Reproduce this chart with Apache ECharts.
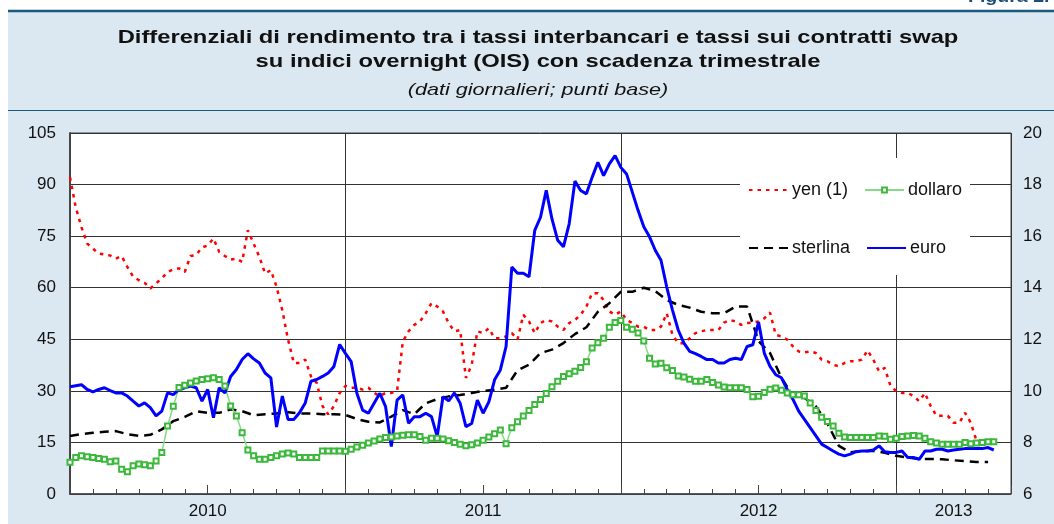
<!DOCTYPE html>
<html>
<head>
<meta charset="utf-8">
<script src="https://cdn.jsdelivr.net/npm/echarts@6/dist/echarts.min.js"></script>
<style>
html, body { margin: 0; padding: 0; background: #fff; }
#chart { width: 1054px; height: 524px; }
</style>
</head>
<body>
<div id="chart"></div>
<script>
// x values are months since 1 Jan 2010; each series is sampled at a fixed step
let FONT = '"Liberation Sans", Arial, Helvetica, sans-serif';
let yearLabels = ['2010', '2011', '2012', '2013'];
let yearLabelAt = [6, 18, 30, 38.5];

// yen (1): right-hand scale, step 0.25 month
let yenStep = 0.25;
let yen = [18.28, 17.12, 16.35, 15.71, 15.52, 15.32, 15.29, 15.25, 15.13, 15.23, 14.81, 14.43, 14.29,
    14.19, 13.97, 14.17, 14.36, 14.61, 14.71, 14.75, 14.61, 15.23, 15.27, 15.56, 15.64, 15.91, 15.39,
    15.23, 15.09, 15.13, 15.0, 16.23, 15.71, 15.2, 14.55, 14.68, 14.04, 13.13, 11.99, 11.08, 11.08,
    11.21, 10.56, 10.31, 9.41, 9.09, 9.41, 9.92, 10.19,
    10.12, 10.12, 10.05, 10.12, 9.92, 9.8, 9.92, 9.92, 9.99, 11.9, 12.31, 12.56, 12.69, 13.01, 13.4,
    13.27, 13.08, 12.63, 12.31, 12.36, 10.5, 11.0, 12.31, 12.24, 12.43, 12.04, 12.04, 12.11, 12.24,
    11.99, 12.95, 12.69, 12.24, 12.63, 12.75, 12.69, 12.49, 12.36, 12.63, 12.75, 12.95, 13.27, 13.79,
    13.79, 13.52, 13.08, 12.95, 13.08,
    12.75, 12.63, 12.49, 12.49, 12.36, 12.36, 12.49, 13.01, 12.17, 11.85, 11.85, 12.04, 12.24, 12.31,
    12.36, 12.36, 12.36, 12.65, 12.75, 12.69, 12.56, 12.63, 12.65, 12.69, 12.81, 13.04, 12.17, 12.11,
    11.99, 11.72, 11.53, 11.49, 11.53, 11.47, 11.21, 11.15, 11.01, 10.95, 11.08, 11.15, 11.15, 11.21,
    11.57, 11.21, 10.76, 10.89, 10.19, 9.99, 9.92, 9.92, 9.8, 9.6, 9.92, 9.41, 9.03, 9.03, 9.03, 8.76,
    8.76, 9.15, 8.76, 8.05, 8.0, 8.05];

// dollaro: left scale, step 0.25 month
let dollaroStep = 0.25;
let dollaro = [9.2, 10.6, 11.1, 10.8, 10.6, 10.3, 10.1, 9.4, 9.6, 7.2, 6.5, 8.2, 8.7, 8.5, 8.2, 9.6,
    12.1, 19.8, 25.5, 31.0, 31.6, 32.3, 32.9, 33.3, 33.5, 33.8, 33.3, 31.4, 25.6, 22.7, 17.8, 12.8,
    11.1, 10.1, 10.1, 10.6, 11.1, 11.6, 11.9, 11.6, 10.6, 10.6, 10.6, 10.6, 12.5, 12.5, 12.5, 12.5, 12.4,
    13.0, 13.7, 14.2, 14.8, 15.4, 16.0, 16.4, 16.6, 16.9, 17.1, 17.2, 17.2, 16.7, 15.6, 16.2, 16.2,
    16.0, 15.5, 15.0, 14.5, 14.0, 14.3, 14.8, 15.6, 16.6, 17.5, 18.6, 14.6, 19.3, 21.0, 22.7, 24.3,
    26.0, 27.5, 29.2, 31.2, 32.8, 34.2, 35.0, 35.7, 36.8, 38.5, 42.5, 44.0, 45.3, 48.5, 49.9, 50.5,
    48.5, 47.9, 46.8, 44.5, 39.5, 37.8, 38.0, 36.7, 35.9, 34.3, 34.0, 33.4, 32.8, 32.8, 33.3, 32.4,
    31.7, 31.1, 30.9, 30.9, 30.9, 30.4, 28.3, 28.4, 29.5, 30.5, 30.8, 30.2, 29.4, 28.9, 28.9, 28.5,
    26.5, 24.3, 22.3, 21.1, 19.8, 17.7, 16.6, 16.4, 16.4, 16.4, 16.4, 16.4, 16.9, 16.8, 15.9, 16.2,
    16.7, 16.9, 17.0, 16.9, 16.2, 15.2, 14.8, 14.5, 14.5, 14.5, 14.5, 15.0, 14.6, 14.8, 15.0, 15.2, 15.2];

// sterlina: left scale, step 0.5 month
let sterlinaStep = 0.5;
let sterlina = [16.9, 17.4, 17.8, 18.1, 18.3, 17.4, 16.9, 17.2, 18.8, 21.2,
    22.4, 24.1, 23.6, 23.6, 24.6, 24.1, 22.9, 23.2, 23.4, 23.8,
    23.4, 23.4, 23.2, 23.2, 23.0, 21.8, 21.0, 20.8, 22.5, 24.4,
    23.2, 26.4, 27.6, 28.4, 28.8, 29.4, 30.0, 30.3, 30.9, 36.0,
    37.6, 41.0, 42.0, 43.9, 46.5, 48.5, 53.0, 55.5, 58.8, 58.8,
    60.0, 59.0, 56.4, 55.0, 54.2, 53.0, 52.6, 52.6, 54.5, 54.5,
    44.5, 41.0, 33.8, 28.5, 28.0, 25.5, 20.5, 14.0, 12.1, 12.5,
    12.5, 12.0, 11.1, 10.6, 10.2, 10.2, 10.1, 9.8, 9.6, 9.3, 9.3];

// euro: left scale, step 0.25 month
let euroStep = 0.25;
let euro = [31.2, 31.5, 31.8, 30.4, 29.7, 30.4, 30.9, 30.1, 29.4, 29.4, 28.5, 27.0, 25.6, 26.5, 25.1,
    22.7, 24.1, 29.4, 28.9, 30.4, 30.9, 31.4, 30.9, 27.0, 30.4, 22.2, 30.9, 29.4, 34.2, 36.2, 39.1,
    40.8, 39.3, 38.1, 35.2, 33.8, 19.5, 28.5, 21.7, 21.7, 23.6, 26.5, 32.8, 33.3, 34.2, 35.2, 37.1,
    43.5, 40.9,
    38.5, 29.3, 24.4, 23.5, 26.4, 29.3, 25.4, 13.8, 27.3, 28.8, 20.6, 22.5, 22.5, 23.5, 22.5, 16.7,
    28.3, 27.1, 29.4, 26.4, 19.6, 20.5, 27.3, 23.5, 26.8, 33.2, 36.1, 42.9, 66.0, 64.2, 64.2, 63.2,
    76.7, 80.5, 88.3, 80.0, 73.8, 71.9, 78.6, 91.0, 88.3, 87.3, 92.1, 96.5, 92.6, 96.0, 98.4, 95.0,
    93.1, 87.8, 82.5, 77.7, 74.8, 70.9, 68.0, 60.2, 53.5, 47.7, 43.9, 41.5, 40.8, 40.0, 39.1, 39.1,
    38.1, 38.1, 39.1, 39.5, 39.1, 42.9, 43.4, 50.0, 41.0, 37.1, 34.7, 33.8, 30.4, 27.5, 24.1, 21.7,
    19.3, 16.9, 14.5, 13.5, 12.5, 11.6, 11.1, 11.6, 12.3, 12.5, 12.5, 12.8, 14.0, 12.3, 12.1, 12.1,
    12.5, 10.6, 10.6, 10.1, 12.5, 12.5, 13.0, 13.0, 12.5, 12.8, 13.0, 13.2, 13.2, 13.2, 13.2, 13.5, 12.8];

function toPoints(values, step) {
    return values.map(function (v, i) { return [i * step, v]; });
}

let chart = echarts.init(document.getElementById('chart'), null, { renderer: 'canvas' });

let baseX = { type: 'value', min: 0, max: 41, position: 'bottom', splitLine: { show: false } };
let noMark = { opacity: 0 };
let legendText = { fontSize: 18, color: '#111', fontFamily: FONT, padding: [0, 0, 0, -1] };

let option = {
    animation: false,
    backgroundColor: '#dce8f1',
    textStyle: { fontFamily: FONT },
    graphic: [
        { type: 'rect', shape: { x: 0, y: 0, width: 1054, height: 11 }, style: { fill: '#fff' } },
        { type: 'rect', shape: { x: 0, y: 0, width: 8, height: 524 }, style: { fill: '#fff' } },
        { type: 'line', shape: { x1: 8, y1: 11, x2: 1054, y2: 11 }, style: { stroke: '#1b5a80', lineWidth: 2.5 } },
        { type: 'line', shape: { x1: 8, y1: 110.5, x2: 1054, y2: 110.5 }, style: { stroke: '#1b5a80', lineWidth: 1.2 } },
        { type: 'text', x: 968, y: -3, scaleX: 1.15, style: { text: 'Figura 2.', fontSize: 17, fontWeight: 'bold', fontFamily: FONT, fill: '#1b4f78', verticalAlign: 'middle' } },
        { type: 'text', x: 538, y: 38, scaleX: 1.25, style: { text: 'Differenziali di rendimento tra i tassi interbancari e tassi sui contratti swap', fontSize: 19, fontWeight: 'bold', fontFamily: FONT, fill: '#111', align: 'center', verticalAlign: 'middle' } },
        { type: 'text', x: 538, y: 62, scaleX: 1.25, style: { text: 'su indici overnight (OIS) con scadenza trimestrale', fontSize: 19, fontWeight: 'bold', fontFamily: FONT, fill: '#111', align: 'center', verticalAlign: 'middle' } },
        { type: 'text', x: 538, y: 90, scaleX: 1.27, style: { text: '(dati giornalieri; punti base)', fontSize: 17, fontStyle: 'italic', fontFamily: FONT, fill: '#111', align: 'center', verticalAlign: 'middle' } },
        // white box behind the legend
        { type: 'rect', z: 3, shape: { x: 740, y: 158, width: 230, height: 117 }, style: { fill: '#fff' } }
    ],
    legend: [
        {
            data: [{ name: 'yen (1)', itemStyle: noMark }, 'dollaro'],
            left: 748, top: 181, padding: 0, itemWidth: 39, itemHeight: 6, itemGap: 16,
            textStyle: legendText
        },
        {
            data: [{ name: 'sterlina', itemStyle: noMark }, { name: 'euro', itemStyle: noMark }],
            left: 748, top: 239, padding: 0, itemWidth: 39, itemHeight: 6, itemGap: 16,
            textStyle: legendText
        }
    ],
    grid: {
        left: 70, right: 43, top: 133, bottom: 30,
        show: true, backgroundColor: '#fff', borderColor: '#444', borderWidth: 1
    },
    xAxis: [
        // monthly ticks
        Object.assign({}, baseX, {
            interval: 1,
            axisLine: { show: true, lineStyle: { color: '#444', width: 1.5 } },
            axisTick: { show: true, inside: true, length: 5, lineStyle: { color: '#444' } },
            axisLabel: { show: false }
        }),
        // longer half-year ticks
        Object.assign({}, baseX, {
            interval: 6,
            axisLine: { show: false },
            axisTick: { show: true, inside: true, length: 9, lineStyle: { color: '#444' } },
            axisLabel: { show: false }
        }),
        // year separators
        Object.assign({}, baseX, {
            interval: 12,
            axisLine: { show: false },
            axisTick: { show: false },
            axisLabel: { show: false },
            splitLine: { show: true, lineStyle: { color: '#333', width: 1 } }
        }),
        // year labels
        Object.assign({}, baseX, {
            interval: 0.5,
            axisLine: { show: false },
            axisTick: { show: false },
            axisLabel: {
                show: true, margin: 9, fontSize: 17, color: '#111', fontFamily: FONT,
                showMinLabel: false, showMaxLabel: false,
                formatter: function (v) {
                    let k = yearLabelAt.indexOf(v);
                    return k >= 0 ? yearLabels[k] : '';
                }
            }
        })
    ],
    yAxis: [
        {
            type: 'value', min: 0, max: 105, interval: 15, position: 'left',
            axisLine: { show: true, lineStyle: { color: '#444', width: 1.5 } },
            axisTick: { show: false },
            axisLabel: { margin: 14, fontSize: 17, color: '#111', fontFamily: FONT },
            splitLine: { show: true, lineStyle: { color: '#333', width: 1 } }
        },
        {
            type: 'value', min: 6, max: 20, interval: 2, position: 'right',
            axisLine: { show: true, lineStyle: { color: '#444', width: 1.5 } },
            axisTick: { show: false },
            axisLabel: { margin: 12, fontSize: 17, color: '#111', fontFamily: FONT },
            splitLine: { show: false }
        }
    ],
    series: [
        {
            name: 'yen (1)', type: 'line', yAxisIndex: 1, symbol: 'none',
            data: toPoints(yen, yenStep),
            itemStyle: { color: '#ff0000' },
            lineStyle: { color: '#ff0000', width: 2.5, type: [3.5, 5] }
        },
        {
            name: 'sterlina', type: 'line', symbol: 'none',
            data: toPoints(sterlina, sterlinaStep),
            itemStyle: { color: '#000' },
            lineStyle: { color: '#000', width: 2.5, type: [9, 6] }
        },
        {
            name: 'dollaro', type: 'line', symbol: 'emptyRect', symbolSize: 5, showAllSymbol: true,
            data: toPoints(dollaro, dollaroStep),
            itemStyle: { color: '#3cb83c', borderWidth: 1 },
            lineStyle: { color: '#86db86', width: 1.5 }
        },
        {
            name: 'euro', type: 'line', symbol: 'none',
            data: toPoints(euro, euroStep),
            itemStyle: { color: '#0000ff' },
            lineStyle: { color: '#0000ff', width: 3 }
        }
    ]
};

chart.setOption(option);
</script>
</body>
</html>
